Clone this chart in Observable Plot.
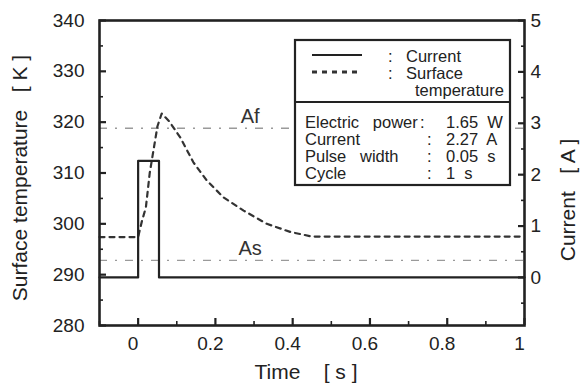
<!DOCTYPE html>
<html><head><meta charset="utf-8">
<script src="https://cdn.jsdelivr.net/npm/d3@7"></script>
<script src="https://cdn.jsdelivr.net/npm/@observablehq/plot@0.6"></script>
<style>
body{margin:0;background:#fff;}
#chart{position:relative;width:582px;height:391px;font-family:"Liberation Sans",Arial,sans-serif;}
#chart svg text{white-space:pre;}
</style>
</head><body><div id="chart"></div>
<script>
// ---- data ----
const currentTime  = [-0.1, 0, 0, 0.054, 0.054, 1.0];
const currentValue = [0, 0, 2.27, 2.27, 0, 0];
const tempTime  = [-0.1, 0.0, 0.01, 0.02, 0.03, 0.04, 0.05, 0.061, 0.08, 0.109, 0.143, 0.178, 0.221, 0.273, 0.333, 0.394, 0.45, 1.0];
const tempValue = [297.4, 297.4, 300.6, 303.2, 310.0, 314.6, 319.2, 321.7, 320.2, 317.0, 312.1, 308.5, 305.2, 302.6, 300.0, 298.4, 297.5, 297.5];
const thresholdNames = ["Af", "As"];
const thresholdTemps = [318.8, 292.8];
const thresholdLabelTime = [0.29, 0.29];
const xTicks = [0, 0.2, 0.4, 0.6, 0.8, 1];
const xMinorTicks = [-0.1, 0.1, 0.3, 0.5, 0.7, 0.9];
const tempTicks = [280, 290, 300, 310, 320, 330, 340];
const tempMinorTicks = [285, 295, 305, 315, 325, 335];
const currentTicks = [0, 1, 2, 3, 4, 5];
const currentMinorTicks = [-0.5, 0.5, 1.5, 2.5, 3.5, 4.5];
const legendNames = ["Current", "Surface"];
const paramNames = ["Electric   power", "Current", "Pulse   width", "Cycle"];
const paramValues = ["1.65  W", "2.27  A", "0.05  s", "1  s"];

// current (A) -> temperature-scale position (secondary axis)
const cToK = d3.scaleLinear([0, 5], [289.45, 340]);

const tempData = tempTime.map((t, i) => ({t, v: tempValue[i]}));
const currentData = currentTime.map((t, i) => ({t, c: currentValue[i]}));
const thresholds = thresholdNames.map((n, i) => ({n, k: thresholdTemps[i], t: thresholdLabelTime[i]}));

const ink = "#222";
const blank = () => "";
const plot = Plot.plot({
  width: 582, height: 391,
  marginLeft: 99, marginRight: 58, marginTop: 20, marginBottom: 66,
  style: {fontFamily: '"Liberation Sans", Arial, sans-serif', fontSize: "19px", color: ink, background: "#fff"},
  x: {domain: [-0.1, 1]},
  y: {domain: [280, 340]},
  marks: [
    Plot.ruleY(thresholds, {y: "k", stroke: "#9a9a9a", strokeWidth: 1.3, strokeDasharray: "8,8,2,8"}),
    Plot.text(thresholds, {x: "t", y: "k", text: "n", dy: -12, fontSize: 20, fill: "#333"}),
    Plot.line(tempData, {x: "t", y: "v", stroke: "#333", strokeWidth: 2.2, strokeDasharray: "5,5"}),
    Plot.line(currentData, {x: "t", y: d => cToK(d.c), stroke: ink, strokeWidth: 2.2}),
    // inward ticks (positive length shifted inside the frame)
    Plot.axisX({ticks: xTicks, anchor: "bottom", tickSize: 7, dy: -7, tickFormat: blank, label: null, stroke: ink, strokeWidth: 2.2}),
    Plot.axisX({ticks: xMinorTicks, anchor: "bottom", tickSize: 4, dy: -4, tickFormat: blank, label: null, stroke: ink, strokeWidth: 1.6}),
    Plot.axisX({ticks: xTicks, anchor: "bottom", tickSize: 0, tickPadding: 11, dx: -5, tickFormat: d => String(d), label: null, fontSize: 19}),
    Plot.axisY({ticks: tempTicks, anchor: "left", tickSize: 7, dx: 7, tickFormat: blank, label: null, stroke: ink, strokeWidth: 2.2}),
    Plot.axisY({ticks: tempMinorTicks, anchor: "left", tickSize: 4, dx: 4, tickFormat: blank, label: null, stroke: ink, strokeWidth: 1.6}),
    Plot.axisY({ticks: tempTicks, anchor: "left", tickSize: 0, tickPadding: 15, label: null, fontSize: 19}),
    Plot.axisY({ticks: currentTicks.map(c => cToK(c)), anchor: "right", tickSize: 7, dx: -7, tickFormat: blank, label: null, stroke: ink, strokeWidth: 2.2}),
    Plot.axisY({ticks: currentMinorTicks.map(c => cToK(c)), anchor: "right", tickSize: 4, dx: -4, tickFormat: blank, label: null, stroke: ink, strokeWidth: 1.6}),
    Plot.axisY({ticks: currentTicks.map(c => cToK(c)), anchor: "right", tickSize: 0, tickPadding: 6, label: null, fontSize: 19,
      tickFormat: d => String(Math.round(cToK.invert(d)))}),
    Plot.frame({stroke: ink, strokeWidth: 2.6})
  ]
});
document.getElementById("chart").appendChild(plot);

const svg = d3.select(plot);
const font = '"Liberation Sans", Arial, sans-serif';
// axis titles
svg.append("text").attr("x", 306).attr("y", 379).attr("text-anchor", "middle")
  .attr("font-size", 21).attr("fill", ink).attr("font-family", font).text("Time    [ s ]");
svg.append("text").attr("transform", "translate(27,178) rotate(-90)").attr("text-anchor", "middle")
  .attr("font-size", 21).attr("fill", ink).attr("font-family", font).text("Surface temperature   [ K ]");
svg.append("text").attr("transform", "translate(575,200) rotate(-90)").attr("text-anchor", "middle")
  .attr("font-size", 21).attr("fill", ink).attr("font-family", font).text("Current   [ A ]");

// legend / parameter box
const g = svg.append("g").attr("font-family", font).attr("fill", ink).attr("font-size", 16.5).attr("text-anchor", "start");
g.append("rect").attr("x", 295).attr("y", 40).attr("width", 215).attr("height", 145)
  .attr("fill", "#fff").attr("stroke", ink).attr("stroke-width", 2.2);
g.append("line").attr("x1", 295).attr("x2", 510).attr("y1", 102).attr("y2", 102).attr("stroke", ink).attr("stroke-width", 2.2);
g.append("line").attr("x1", 312).attr("x2", 362).attr("y1", 55).attr("y2", 55).attr("stroke", ink).attr("stroke-width", 1.8);
g.append("line").attr("x1", 312).attr("x2", 362).attr("y1", 72).attr("y2", 72).attr("stroke", "#333").attr("stroke-width", 3).attr("stroke-dasharray", "5,5");
legendNames.forEach((n, i) => {
  const y = 62 + i * 17;
  g.append("text").attr("x", 388).attr("y", y).text(":");
  g.append("text").attr("x", 406).attr("y", y).text(n);
});
g.append("text").attr("x", 415).attr("y", 96).text("temperature");
paramNames.forEach((n, i) => {
  const y = 128 + i * 17;
  g.append("text").attr("x", 305).attr("y", y).text(n);
  g.append("text").attr("x", i === 0 ? 420 : 427).attr("y", y).text(":");
  g.append("text").attr("x", 446).attr("y", y).text(paramValues[i]);
});
</script>
</body></html>
